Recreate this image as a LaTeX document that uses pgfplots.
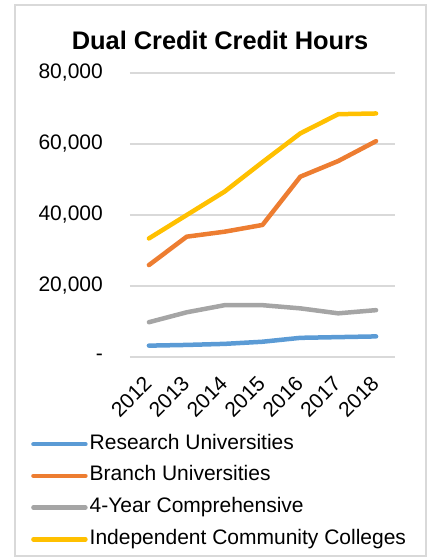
\documentclass[border=0pt]{standalone}
\usepackage{fontspec}
\setmainfont{Liberation Sans}
\usepackage{pgfplots}
\pgfplotsset{compat=1.18}
\definecolor{cBlue}{HTML}{5B9BD5}
\definecolor{cOrange}{HTML}{ED7D31}
\definecolor{cGray}{HTML}{A5A5A5}
\definecolor{cYellow}{HTML}{FFC000}
\definecolor{cGrid}{HTML}{D9D9D9}
\begin{document}
\begin{tikzpicture}
\begin{axis}[
  name=ax,
  scale only axis,
  width=265bp, height=284bp,
  xmin=-0.5, xmax=6.5, ymin=0, ymax=80000,
  xtick={0,...,6},
  xticklabels={2012,2013,2014,2015,2016,2017,2018},
  ytick={0,20000,40000,60000,80000},
  yticklabels={{-},{20,000},{40,000},{60,000},{80,000}},
  scaled y ticks=false,
  major tick length=0pt,
  axis line style={draw=none},
  ymajorgrids, grid style={cGrid, line width=1.3bp},
  tick label style={font=\fontsize{21bp}{25bp}\selectfont, inner sep=0pt},
  yticklabel style={anchor=east, xshift=-27bp},
  xticklabel style={yshift=-23bp, xshift=-1bp, rotate=45, anchor=east},
  title={Dual Credit Credit Hours},
  title style={at={(axis description cs:0.3396,1.095)}, anchor=center, font=\fontsize{25.4bp}{30bp}\selectfont\bfseries, inner sep=0pt},
  every axis plot/.append style={line width=4.5bp, line cap=round, line join=round},
  legend style={at={(axis description cs:-0.3736,-0.2711)}, anchor=north west, draw=none, fill=none,
    font=\fontsize{21bp}{25bp}\selectfont, nodes={inner sep=0pt, text height=15bp, text depth=5bp},
    row sep=11.7bp, column sep=2bp, inner sep=0pt},
  legend cell align=left,
  legend image code/.code={\draw[#1] (0bp,0bp) -- (52bp,0bp);},
]
\addplot[cBlue] coordinates {(0,3200) (1,3400) (2,3700) (3,4300) (4,5400) (5,5600) (6,5800)};
\addlegendentry{Research Universities}
\addplot[cOrange] coordinates {(0,25900) (1,33900) (2,35300) (3,37200) (4,50800) (5,55200) (6,60800)};
\addlegendentry{Branch Universities}
\addplot[cGray] coordinates {(0,9800) (1,12600) (2,14600) (3,14600) (4,13700) (5,12300) (6,13200)};
\addlegendentry{4-Year Comprehensive}
\addplot[cYellow] coordinates {(0,33400) (1,40000) (2,46600) (3,54900) (4,63000) (5,68400) (6,68600)};
\addlegendentry{Independent Community Colleges}
\end{axis}
\draw[cGrid, line width=1.5bp] ([shift={(-115bp,-199bp)}]ax.south west) rectangle ([shift={(296bp,352bp)}]ax.south west);
\pgfresetboundingbox
\path[use as bounding box] ([shift={(-130bp,-201bp)}]ax.south west) rectangle ([shift={(300bp,357bp)}]ax.south west);
\end{tikzpicture}
\end{document}
